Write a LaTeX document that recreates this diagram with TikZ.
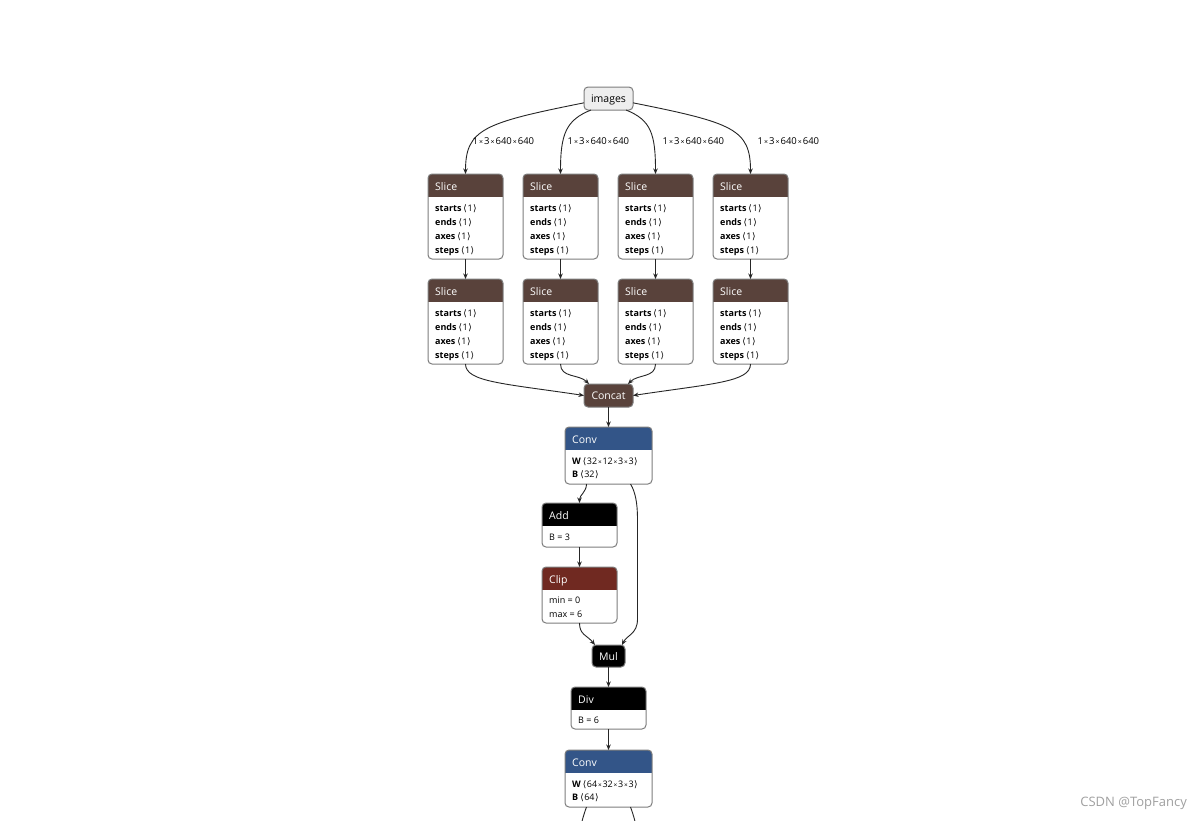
\documentclass[tikz,border=0pt]{standalone}
\usepackage{fontspec}
\setmainfont{Open Sans}
\newfontfamily\dv{DejaVu Sans}
\usetikzlibrary{arrows.meta}
\definecolor{tensorc}{RGB}{89,66,59}
\definecolor{layerc}{RGB}{51,85,136}
\definecolor{actc}{RGB}{112,41,33}
\definecolor{bordc}{RGB}{125,125,125}
\definecolor{inputc}{RGB}{238,238,238}
\definecolor{wmc}{RGB}{160,160,160}
\newcommand\ang[1]{\kern2pt{\dv\char"27E8}\kern0.5pt#1\kern0.5pt{\dv\char"27E9}}
\newcommand\mx{{\fontsize{6.5}{7}\selectfont\kern0.8pt×\kern0.8pt}}
\newcommand\lx{{\fontsize{7}{7}\selectfont\kern1pt×\kern1pt}}
\tikzset{
  opframe/.style={rectangle, inner sep=0pt, outer sep=0pt, fill=white, rounded corners=4pt},
  titletxt/.style={anchor=west, inner sep=0pt, text=white, text height=7pt, text depth=2pt, font=\fontsize{10.5}{12}\selectfont},
  attrtxt/.style={anchor=west, inner sep=0pt, text height=6.5pt, text depth=1.5pt, font=\fontsize{9}{10}\selectfont},
  smallop/.style={rectangle, draw=bordc, line width=1pt, rounded corners=4pt, inner sep=0pt, outer sep=0pt, text=white, text height=9pt, text depth=1pt, font=\fontsize{10.5}{12}\selectfont},
  inputbox/.style={rectangle, draw=bordc, line width=1pt, fill=inputc, rounded corners=4pt, inner sep=0pt, outer sep=0pt, minimum width=49pt, minimum height=23pt, text height=9pt, text depth=1pt, font=\fontsize{10.5}{12}\selectfont},
  lbl/.style={anchor=west, inner sep=0pt, text height=6.5pt, text depth=1.5pt, font=\fontsize{9.5}{10}\selectfont},
  edge/.style={draw=black!85, line width=0.9pt, -{Stealth[length=5.5pt,width=4.5pt]}},
  plain/.style={draw=black!85, line width=0.9pt},
}
\newcommand\opbox[7]{%
  \node[opframe, minimum width={#4-#2}, minimum height={#5-#3}] (#1) at ({(#2+#4)/2},{(#3+#5)/2}) {};
  \begin{scope}
    \clip[rounded corners=4pt] (#1.north west) rectangle (#1.south east);
    \fill[#6] (#1.north west) rectangle ([yshift=-23pt]#1.north east);
  \end{scope}
  \draw[bordc, line width=1pt, rounded corners=4pt] (#1.north west) rectangle (#1.south east);
  \node[titletxt] (#1-t) at ([xshift=7pt,yshift=-13.5pt]#1.north west) {#7};
}
\newcommand\attr[4]{\node[attrtxt] (#1-#2) at ([xshift=7pt,yshift=-#3pt]#1.north west) {#4};}
\newcommand\sliceattrs[1]{%
  \attr{#1}{a}{34.5}{\textbf{starts}\ang{1}}
  \attr{#1}{b}{48.5}{\textbf{ends}\ang{1}}
  \attr{#1}{c}{62.5}{\textbf{axes}\ang{1}}
  \attr{#1}{d}{76.5}{\textbf{steps}\ang{1}}
}
\begin{document}
\begin{tikzpicture}[x=1pt,y=-1pt]
\useasboundingbox (0,0) rectangle (1202,820);
\clip (0,0) rectangle (1202,820);
\fill[white] (0,0) rectangle (1202,820);

\node[inputbox] (images) at (608.5,98.5) {images};

\opbox{s1}{428}{174}{503}{259}{tensorc}{Slice}\sliceattrs{s1}
\opbox{s2}{523}{174}{598}{259}{tensorc}{Slice}\sliceattrs{s2}
\opbox{s3}{618}{174}{693}{259}{tensorc}{Slice}\sliceattrs{s3}
\opbox{s4}{713}{174}{788}{259}{tensorc}{Slice}\sliceattrs{s4}

\opbox{t1}{428}{279}{503}{364}{tensorc}{Slice}\sliceattrs{t1}
\opbox{t2}{523}{279}{598}{364}{tensorc}{Slice}\sliceattrs{t2}
\opbox{t3}{618}{279}{693}{364}{tensorc}{Slice}\sliceattrs{t3}
\opbox{t4}{713}{279}{788}{364}{tensorc}{Slice}\sliceattrs{t4}

\node[smallop, fill=tensorc, minimum width=49pt, minimum height=23pt] (concat) at (608.5,395.5) {Concat};

\opbox{conv1}{565}{427}{652}{484}{layerc}{Conv}
\attr{conv1}{a}{35}{\textbf{W}\ang{32\mx 12\mx 3\mx 3}}
\attr{conv1}{b}{48}{\textbf{B}\ang{32}}

\opbox{add}{542}{503}{617}{547}{black}{Add}
\attr{add}{a}{35}{B = 3}

\opbox{clip}{542}{567}{617}{623}{actc}{Clip}
\attr{clip}{a}{34}{min = 0}
\attr{clip}{b}{48}{max = 6}

\node[smallop, fill=black, minimum width=33pt, minimum height=22pt] (mul) at (608.5,656) {Mul};

\opbox{div}{571}{687}{646}{729}{black}{Div}
\attr{div}{a}{34}{B = 6}

\opbox{conv2}{565}{750}{652}{807}{layerc}{Conv}
\attr{conv2}{a}{34.5}{\textbf{W}\ang{64\mx 32\mx 3\mx 3}}
\attr{conv2}{b}{48}{\textbf{B}\ang{64}}

% edges from images
\draw[edge] (images.190) .. controls +(-100,20) and +(0,-45) .. (s1.north);
\draw[edge] ([xshift=7pt]images.south west) .. controls +(-25,10) and +(0,-40) .. (s2.north);
\draw[edge] ([xshift=-7pt]images.south east) .. controls +(25,10) and +(0,-40) .. (s3.north);
\draw[edge] (images.350) .. controls +(100,20) and +(0,-45) .. (s4.north);

\node[lbl] (l1) at ([xshift=7pt,yshift=32.5pt]s1.north) {1\lx 3\lx 640\lx 640};
\node[lbl] (l2) at ([xshift=7pt,yshift=32.5pt]s2.north) {1\lx 3\lx 640\lx 640};
\node[lbl] (l3) at ([xshift=7pt,yshift=32.5pt]s3.north) {1\lx 3\lx 640\lx 640};
\node[lbl] (l4) at ([xshift=7pt,yshift=32.5pt]s4.north) {1\lx 3\lx 640\lx 640};

\foreach \i in {1,2,3,4} {\draw[edge] (s\i.south) -- (t\i.north);}

\draw[edge] (t1.south) .. controls +(0,18) and +(-80,-12) .. (concat.west);
\draw[edge] (t2.south) .. controls +(0,14) and +(-10,-10) .. ([xshift=5pt]concat.north west);
\draw[edge] (t3.south) .. controls +(0,14) and +(10,-10) .. ([xshift=-5pt]concat.north east);
\draw[edge] (t4.south) .. controls +(0,18) and +(80,-12) .. (concat.east);

\draw[edge] (concat.south) -- (conv1.north);
\draw[edge] ([xshift=-22pt]conv1.south) .. controls +(0,8) and +(0,-8) .. (add.north);
\draw[edge] ([xshift=22pt]conv1.south) .. controls +(5,8) and +(0,-15) .. ++(7,35) -- ++(0,100) .. controls +(0,15) and +(5,-10) .. ([xshift=-3pt]mul.north east);
\draw[edge] (add.south) -- (clip.north);
\draw[edge] (clip.south) .. controls +(0,12) and +(-8,-10) .. ([xshift=3pt]mul.north west);
\draw[edge] (mul.south) -- (div.north);
\draw[edge] (div.south) -- (conv2.north);

\coordinate (o1) at (579,840);
\coordinate (o2) at (638,840);
\draw[plain] ([xshift=-22pt]conv2.south) .. controls +(-3,8) and +(0,-10) .. (o1);
\draw[plain] ([xshift=22pt]conv2.south) .. controls +(3,8) and +(0,-10) .. (o2);

\node[anchor=east, inner sep=0pt, text=wmc, font=\fontsize{13}{15}\selectfont] (wm) at (1187,803) {CSDN @TopFancy};
\end{tikzpicture}
\end{document}
